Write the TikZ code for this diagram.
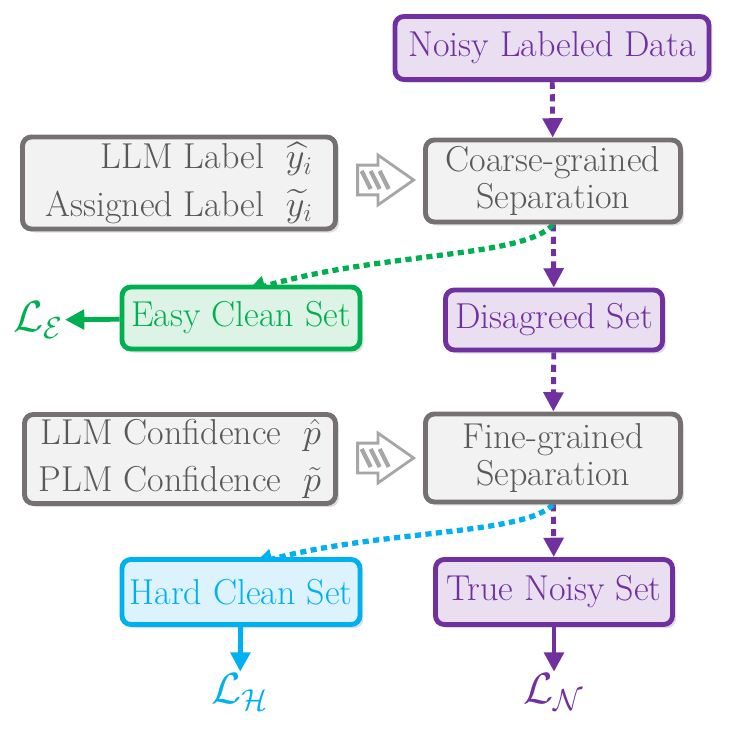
\documentclass[tikz,border=0pt]{standalone}
\usepackage{amssymb}
\usepackage{amsmath}
\usetikzlibrary{arrows.meta,shapes.arrows,shadows,calc,backgrounds}

\definecolor{noisypurple}{HTML}{7030A0}
\definecolor{noisyfill}{HTML}{EADFF1}
\definecolor{infogray}{HTML}{767171}
\definecolor{infofill}{HTML}{F2F2F2}
\definecolor{infotext}{HTML}{595959}
\definecolor{easygreen}{HTML}{00B050}
\definecolor{easyfill}{HTML}{DCF3E6}
\definecolor{hardcyan}{HTML}{00B0F0}
\definecolor{hardfill}{HTML}{DCF2FC}
\definecolor{arrowgray}{HTML}{A6A6A6}

\begin{document}
\begin{tikzpicture}[x=0.02cm,y=-0.02cm,>={Triangle[length=11pt,width=11pt]},
		box/.style={draw, rounded corners=5pt, line width=2.8pt, align=center, inner sep=0pt,
			font=\fontsize{20.5}{21}\selectfont,
			drop shadow={opacity=0.25, shadow xshift=2pt, shadow yshift=-2pt}},
		noisybox/.style={box, draw=noisypurple, fill=noisyfill, text=noisypurple},
		infobox/.style={box, draw=infogray, fill=infofill, text=infotext},
		easybox/.style={box, draw=easygreen, fill=easyfill, text=easygreen},
		hardbox/.style={box, draw=hardcyan, fill=hardfill, text=hardcyan},
		lossnode/.style={inner sep=1pt, font=\fontsize{26}{28}\selectfont},
		noisyflow/.style={->, noisypurple, line width=2.8pt, dash pattern=on 4pt off 3pt},
		splitflow/.style={->, line width=3pt, dash pattern=on 3.5pt off 2.5pt},
		lossflow/.style={->, line width=2.8pt},
		stripearrow/.style={single arrow, draw=arrowgray, fill=white, line width=1.6pt,
			inner xsep=0pt, inner ysep=0.27cm,
			minimum height=1.12cm, single arrow head extend=0.2cm,
			single arrow tip angle=70,
			path picture={\foreach \d in {0,9,18}
				\draw[arrowgray, line width=2.4pt] ($(path picture bounding box.center)+(-24+\d,-9)$) -- ($(path picture bounding box.center)+(-15+\d,9)$);}}]
	\useasboundingbox (0,0) rectangle (733,733);

	\node[noisybox, minimum width=6.28cm, minimum height=1.26cm] (Noisy) at (552,48) {Noisy Labeled Data};
	\node[infobox, minimum width=5.1cm, minimum height=1.64cm] (Coarse) at (553,181) {Coarse-grained\\Separation};
	\node[infobox, minimum width=6.26cm, minimum height=1.84cm, align=right, font=\fontsize{20.5}{27}\selectfont] (LLMLabel) at (179,183)
		{LLM Label~~$\widehat{y}_i$\\Assigned Label~~$\widetilde{y}_i$};
	\node[stripearrow] (ArrA) at (375,180) {};
	\node[easybox, minimum width=4.76cm, minimum height=1.24cm] (Easy) at (241,318) {Easy Clean Set};
	\node[noisybox, minimum width=4.34cm, minimum height=1.2cm] (Disagreed) at (554,320) {Disagreed Set};
	\node[lossnode, text=easygreen] (LE) at (38,320) {$\mathcal{L}_{\mathcal{E}}$};

	\node[infobox, minimum width=5.1cm, minimum height=1.76cm] (Fine) at (553,458) {Fine-grained\\Separation};
	\node[infobox, minimum width=6.22cm, minimum height=1.78cm, align=right, font=\fontsize{20.5}{27}\selectfont] (Conf) at (180,459)
		{LLM Confidence~~$\hat{p}$\\PLM Confidence~~$\tilde{p}$};
	\node[stripearrow] (ArrB) at (375,458) {};
	\node[hardbox, minimum width=4.76cm, minimum height=1.3cm] (Hard) at (241,592) {Hard Clean Set};
	\node[noisybox, minimum width=4.74cm, minimum height=1.3cm] (TrueNoisy) at (554,592) {True Noisy Set};
	\node[lossnode, text=hardcyan] (LH) at (240,692) {$\mathcal{L}_{\mathcal{H}}$};
	\node[lossnode, text=noisypurple] (LN) at (554,692) {$\mathcal{L}_{\mathcal{N}}$};

	\begin{pgfonlayer}{background}
		\path[noisyflow] (Noisy) edge (Coarse)
			(Coarse) edge (Disagreed)
			(Disagreed) edge (Fine)
			(Fine) edge (TrueNoisy);
		\draw[splitflow, easygreen] (Coarse.south) .. controls (525,258) and (380,252) .. ([xshift=3pt,yshift=-4pt]Easy.north);
		\draw[splitflow, hardcyan] (Fine.south) .. controls (525,535) and (380,530) .. ([xshift=7pt,yshift=-4pt]Hard.north);
	\end{pgfonlayer}

	\draw[lossflow, easygreen] (Easy) -- (LE);
	\draw[lossflow, hardcyan] (Hard) -- (LH);
	\draw[lossflow, noisypurple] (TrueNoisy) -- (LN);
\end{tikzpicture}
\end{document}
